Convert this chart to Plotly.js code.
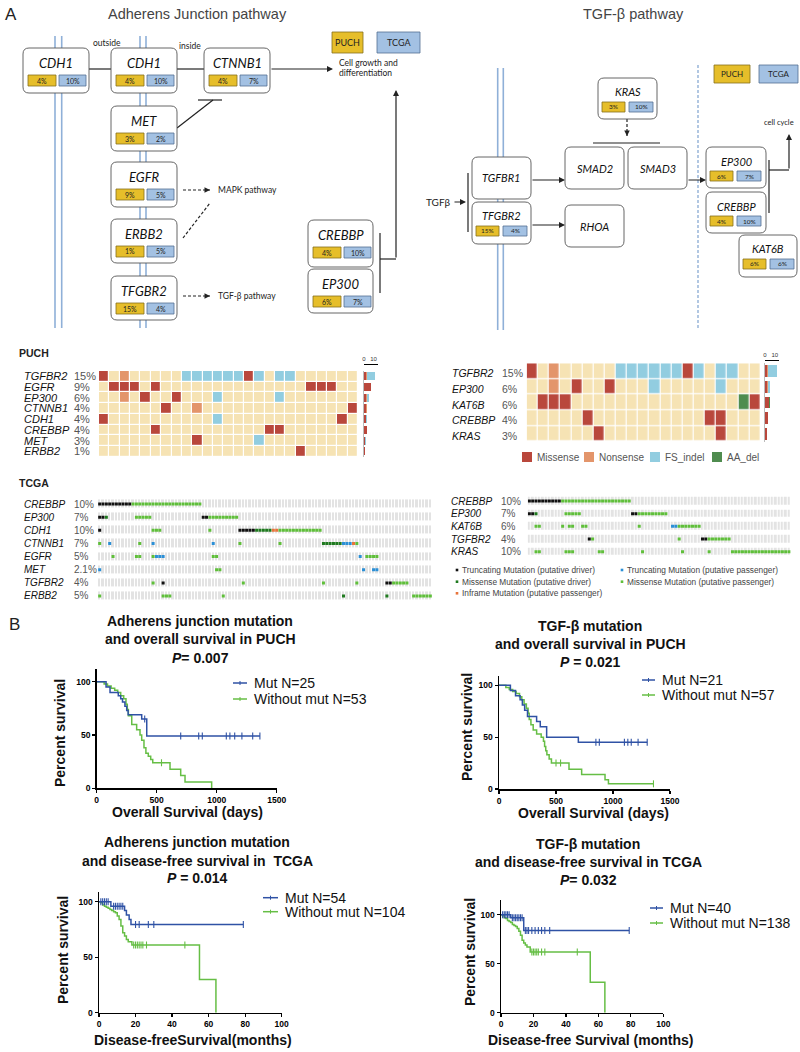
<!DOCTYPE html>
<html><head><meta charset="utf-8">
<script src="https://cdn.plot.ly/plotly-3.0.1.min.js"></script>
<style>html,body{margin:0;padding:0;background:#fff}</style>
</head><body><div id="chart" style="width:800px;height:1052px"></div>
<script>
// ================= DATA =================
// Pathway (A, top): gene names and mutation frequencies
const ajGenes = ['CDH1','CDH1','CTNNB1','MET','EGFR','ERBB2','TFGBR2','CREBBP','EP300'];
const ajPUCH  = ['4%','4%','4%','3%','9%','1%','15%','4%','6%'];
const ajTCGA  = ['10%','10%','7%','2%','5%','5%','4%','10%','7%'];
const tgfGenes = ['KRAS','TGFBR1','TFGBR2','SMAD2','SMAD3','RHOA','EP300','CREBBP','KAT6B'];
const tgfPUCH  = ['3%',null,'15%',null,null,null,'6%','4%','6%'];
const tgfTCGA  = ['10%',null,'4%',null,null,null,'7%','10%','6%'];

// PUCH oncoprints (M=Missense, N=Nonsense, F=FS_indel, A=AA_del, .=none)
const puchAJGenes = ['TGFBR2','EGFR','EP300','CTNNB1','CDH1','CREBBP','MET','ERBB2'];
const puchAJPct   = ['15%','9%','6%','4%','4%','4%','3%','1%'];
const puchAJRows  = [
  'M.N.....FFFFFFMF.FF......',
  '.MMM.M..............MMM..',
  '..N.M..M...F.....F.......',
  '......M..N..............M',
  'M..........F...........M.',
  '.....M..........MM.......',
  '.........M.....F.........',
  '...................M.....'];
const puchTGFGenes = ['TGFBR2','EP300','KAT6B','CREBBP','KRAS'];
const puchTGFPct   = ['15%','6%','6%','4%','3%'];
const puchTGFRows  = [
  'M.N.....FFFFFFMF.FF..',
  '..N.M..M...F.....F...',
  '.MMM...............AM',
  '.....M..........MM...',
  '......M..........M...'];
const puchTypes  = ['Missense','Nonsense','FS_indel','AA_del'];
const puchCodes  = ['M','N','F','A'];

// TCGA oncoprints: runs [first sample, last sample, type]
// T=Truncating driver, t=Truncating passenger, M=Missense driver, m=Missense passenger, i=Inframe passenger
const tcgaAJGenes = ['CREBBP','EP300','CDH1','CTNNB1','EGFR','MET','TGFBR2','ERBB2'];
const tcgaAJPct   = ['10%','7%','10%','7%','5%','2.1%','4%','5%'];
const tcgaAJN = 100;
const tcgaAJRuns = [
  [[0,9,'T'],[10,30,'m']],
  [[0,1,'T'],[2,2,'M'],[11,15,'m'],[31,32,'T'],[33,41,'m']],
  [[0,0,'T'],[16,18,'m'],[33,33,'m'],[42,46,'T'],[47,51,'M'],[52,53,'i'],[54,66,'m']],
  [[0,0,'m'],[3,3,'t'],[12,12,'m'],[16,16,'t'],[34,34,'t'],[42,42,'m'],[54,54,'m'],[67,72,'M'],[73,75,'t'],[76,76,'i'],[77,77,'m']],
  [[4,4,'m'],[11,12,'m'],[16,16,'m'],[17,19,'t'],[34,35,'m'],[78,78,'t'],[80,83,'m']],
  [[0,0,'t'],[35,36,'m'],[79,79,'t'],[82,83,'t']],
  [[16,16,'m'],[19,19,'T'],[43,43,'m'],[67,67,'m'],[77,77,'m'],[86,87,'T'],[88,92,'m']],
  [[0,0,'m'],[19,21,'m'],[37,37,'m'],[73,73,'M'],[86,86,'M'],[94,99,'m']]];
const tcgaTGFGenes = ['CREBBP','EP300','KAT6B','TGFBR2','KRAS'];
const tcgaTGFPct   = ['10%','7%','6%','4%','10%'];
const tcgaTGFN = 79;
const tcgaTGFRuns = [
  [[0,9,'T'],[10,30,'m']],
  [[0,1,'T'],[2,2,'M'],[11,15,'m'],[31,32,'T'],[33,41,'m']],
  [[2,3,'m'],[10,10,'m'],[12,13,'m'],[16,17,'m'],[33,33,'m'],[43,44,'t'],[45,51,'m']],
  [[18,18,'T'],[19,19,'m'],[45,45,'m'],[52,53,'T'],[54,60,'m']],
  [[2,3,'m'],[11,13,'m'],[21,22,'m'],[34,34,'m'],[46,46,'m'],[54,54,'m'],[61,78,'m']]];
const tcgaCodes  = ['T','M','i','t','m'];
const tcgaLabels = ['Truncating Mutation (putative driver)','Missense Mutation (putative driver)','Inframe Mutation (putative passenger)','Truncating Mutation (putative passenger)','Missense Mutation (putative passenger)'];

// Kaplan-Meier curves (B)
const km1MutT = [0,78,111,180,200,215,235,250,262,375,417,1360];
const km1MutS = [100,95,90,87,84,81,77,73,69,65,49,49];
const km1MutC = [400,700,850,880,1080,1110,1150,1210,1300,1360];
const km1WoT  = [0,62,90,120,150,175,200,225,244,255,264,292,333,361,375,394,410,430,450,467,611,700,736,958];
const km1WoS  = [100,98,96,94,92,90,87,84,79,74,68,60,55,50,45,38,33,30,27,24,18,12,6,0];
const km1WoC  = [540];

const km2MutT = [0,100,145,185,205,225,250,330,362,418,696,1300];
const km2MutS = [100,95,90,86,81,76,70,65,60,50,45,45];
const km2MutC = [850,880,1100,1130,1160,1220,1300];
const km2WoT  = [0,60,90,120,150,180,200,220,240,255,265,280,300,330,370,390,400,410,420,440,460,614,725,930,960,1355];
const km2WoS  = [100,98,96,94,92,89,86,82,78,73,67,62,57,53,50,46,41,37,33,29,25,19,14,9,5,5];
const km2WoC  = [500,540,1355];

const km3MutT = [0,6.5,14,15,16.5,17.5,79];
const km3MutS = [100,96,92,88,84,79.5,79.5];
const km3MutC = [1,2,3,4,5,8,9,10,11,12,13,20,22,27,30,79];
const km3WoT  = [0,1,2,3,4,5,6,7,8,9,10,11,12,13,14,15,16,18,55,64];
const km3WoS  = [100,99,97,96,95,94,93,92,91,90,87,84,78,72,69,66,64,61,30,0];
const km3WoC  = [19,20,21,22,23,24,26,47];

const km4MutT = [0,6,14,79];
const km4MutS = [100,97,84,84];
const km4MutC = [1,2,3,4,5,7,8,9,10,11,12,13,15,16,17,19,21,23,25,27,30,79];
const km4WoT  = [0,1,2,3,4,5,6,7,8,9,10,11,12,13,14,15,16,18,55,64];
const km4WoS  = [100,99,97,96,94,93,92,90,89,88,86,83,79,74,71,69,67,62,31,0];
const km4WoC  = [19,20,21,22,23,25,27,47];

// ================= HELPERS / STYLE =================
const W=800,H=1052;
const X=p=>p/W, Y=p=>1-p/H;
const FA='Liberation Sans, Arial, sans-serif';
const FD='Lato, Open Sans, sans-serif';
const shapes=[], annotations=[], traces=[];
function line(x0,y0,x1,y1,color,width,dash){shapes.push({type:'line',xref:'paper',yref:'paper',x0:X(x0),y0:Y(y0),x1:X(x1),y1:Y(y1),line:{color:color||'#222',width:width||1.2,dash:dash||'solid'}});}
function rect(x0,y0,x1,y1,fill,lc,lw){shapes.push({type:'rect',xref:'paper',yref:'paper',x0:X(x0),y0:Y(y0),x1:X(x1),y1:Y(y1),fillcolor:fill,line:{color:lc||fill,width:lw===undefined?0.8:lw}});}
function rrect(x0,y0,x1,y1,r,fill,lc,lw){
  const P=(x,y)=>X(x)+','+Y(y);
  const d='M'+P(x0+r,y0)+' L'+P(x1-r,y0)+' Q'+P(x1,y0)+' '+P(x1,y0+r)+' L'+P(x1,y1-r)+' Q'+P(x1,y1)+' '+P(x1-r,y1)+
    ' L'+P(x0+r,y1)+' Q'+P(x0,y1)+' '+P(x0,y1-r)+' L'+P(x0,y0+r)+' Q'+P(x0,y0)+' '+P(x0+r,y0)+' Z';
  shapes.push({type:'path',xref:'paper',yref:'paper',path:d,fillcolor:fill,line:{color:lc,width:lw}});
}
function text(x,y,t,size,opts,font){
  annotations.push(Object.assign({xref:'paper',yref:'paper',x:X(x),y:Y(y),text:t,showarrow:false,
    font:Object.assign({size:size,color:'#222',family:FA},font||{}),xanchor:'center',yanchor:'middle'},opts||{}));
}
function arrow(x0,y0,x1,y1,color,width){
  annotations.push({xref:'paper',yref:'paper',x:X(x1),y:Y(y1),ax:x0-x1,ay:y0-y1,axref:'pixel',ayref:'pixel',
    text:'',showarrow:true,arrowhead:2,arrowsize:1,arrowwidth:width||1.2,arrowcolor:color||'#222'});
}
function dashArrow(x0,y0,x1,y1){
  line(x0,y0,x1,y1,'#222',1.2,'3px,2px');
  const L=Math.hypot(x1-x0,y1-y0), ux=(x1-x0)/L, uy=(y1-y0)/L;
  arrow(x1-ux*3,y1-uy*3,x1,y1,'#222',1.1);
}
const YEL='#e6be2a', YELB='#86701c', BLU='#a3c1e3', BLUB='#536f92';

// ================= PANEL A : PATHWAYS =================
text(3,15,'A',17,{xanchor:'left'});
text(197,14,'Adherens Junction pathway',14.5,{}, {color:'#444'});
text(633,14,'TGF-β pathway',14.5,{}, {color:'#444'});

// membranes
[55,61.7,140,146].forEach(x=>line(x,36,x,328,'#8fb0d8',1.6));
[497.7,503.3].forEach(x=>line(x,68,x,330,'#8fb0d8',1.6));
line(698,65,698,330,'#7fa2cf',1.2,'3px,2px');

// Adherens connections
line(89,69,111,69); line(177,69,204,69); arrow(270,69,333,69);
line(177,128,213,100); line(198,100,222,100);
dashArrow(183,190,210,190); text(216,190,'MAPK pathway',8.5,{xanchor:'left'},{family:FD});
dashArrow(183,238,210,203);
dashArrow(183,296,210,296); text(216,296,'TGF-β pathway',8.5,{xanchor:'left'},{family:FD});
line(380,233,380,293); line(380,259,396,259); arrow(396,259,396,90);
text(107,43,'outside',8.5,{},{family:FD}); text(190,46,'inside',8.5,{},{family:FD});
text(337,63,'Cell growth and',8.5,{xanchor:'left'},{family:FD});
text(337,73,'differentiation',8.5,{xanchor:'left'},{family:FD});
rect(332,32,363,53,YEL,YELB,0.8); text(347.5,42.5,'PUCH',9,{},{family:FD});
rect(377,32,420,53,BLU,BLUB,0.8); text(398.5,42.5,'TCGA',9,{},{family:FD});

const ajBoxes=[[23,48,89,93],[111,48,177,93],[204,48,270,93],[111,106,177,151],[111,162,177,207],[111,219,177,263],[111,276,177,320],[308,220,373,267],[308,269,373,313]];
ajGenes.forEach((g,i)=>{
  const [x0,y0,x1,y1]=ajBoxes[i];
  rrect(x0,y0,x1,y1,6,'#fff','#555',0.9);
  text((x0+x1)/2,y0+15,'<i>'+g+'</i>',13,{},{family:FD,color:'#111'});
  rect(x0+5,y0+27,x0+33,y0+38,YEL,YELB,0.8); text(x0+19,y0+32.5,ajPUCH[i],7,{},{family:FD});
  rect(x0+36,y0+27,x0+63,y0+38,BLU,BLUB,0.8); text(x0+49.5,y0+32.5,ajTCGA[i],7,{},{family:FD});
});

// TGF connections
dashArrow(627,119,627,136);
line(593,143,660,143);
arrow(531,180,565,180); arrow(531,225,565,225); arrow(687,180,706,180);
line(468,173,468,232); text(453,202,'TGFβ',10,{xanchor:'right'},{family:FD}); arrow(453,202,466,202);
line(769,160,769,213); line(769,170,789,170); arrow(789,170,789,134);
text(779,122,'cell cycle',7.5,{},{family:FD});
rect(714,65,750,83,YEL,YELB,0.8); text(732,74,'PUCH',8,{},{family:FD});
rect(759,65,798,83,BLU,BLUB,0.8); text(778.5,74,'TCGA',8,{},{family:FD});

const tgfBoxes=[[598,78,657,119],[472,157,531,199],[472,202,531,244],[565,147,624,189],[628,147,687,189],[565,205,624,247],[706,147,766,188],[706,192,766,233],[739,235,797,277]];
tgfGenes.forEach((g,i)=>{
  const [x0,y0,x1,y1]=tgfBoxes[i];
  rrect(x0,y0,x1,y1,6,'#fff','#555',0.9);
  if(tgfPUCH[i]){
    text((x0+x1)/2,y0+14,'<i>'+g+'</i>',11,{},{family:FD,color:'#111'});
    rect(x0+4,y0+24,x0+27,y0+34,YEL,YELB,0.8); text(x0+15.5,y0+29,tgfPUCH[i],6.5,{},{family:FD});
    rect(x0+31,y0+24,x0+55,y0+34,BLU,BLUB,0.8); text(x0+43,y0+29,tgfTCGA[i],6.5,{},{family:FD});
  } else {
    text((x0+x1)/2,(y0+y1)/2,'<i>'+g+'</i>',11,{},{family:FD,color:'#111'});
  }
});

// ================= PUCH ONCOPRINTS =================
const puchColors=['#f6e3b4','#b9473c','#e3956b','#92cde0','#4f8c4f'];
const cs=[];puchColors.forEach((c,i)=>{cs.push([i/5,c]);cs.push([(i+1)/5,c]);});
function puchPanel(rows,genes,pct,xa,ya,barXa,barYa,gx,px,rowYs,sz){
  const z=rows.map(r=>r.split('').map(ch=>puchCodes.indexOf(ch)+1));
  traces.push({type:'heatmap',z:z,x:z[0].map((_,j)=>j),y:rows.map((_,i)=>i),zmin:-0.5,zmax:4.5,colorscale:cs,
    showscale:false,xgap:1.2,ygap:1.2,xaxis:xa,yaxis:ya,hoverinfo:'skip'});
  puchCodes.forEach((c,k)=>{
    traces.push({type:'bar',orientation:'h',x:rows.map(r=>r.split('').filter(ch=>ch===c).length),
      y:rows.map((_,i)=>i),marker:{color:puchColors[k+1],line:{width:0}},width:0.75,
      xaxis:barXa,yaxis:barYa,hoverinfo:'skip',showlegend:false});
  });
  genes.forEach((g,i)=>{
    text(gx,rowYs[i],'<i>'+g+'</i>',sz,{xanchor:'left'},{color:'#111'});
    text(px,rowYs[i],pct[i],sz,{xanchor:'left'},{color:'#555'});
  });
}
text(17,353,'<b>PUCH</b>',10.5,{xanchor:'left'});
puchPanel(puchAJRows,puchAJGenes,puchAJPct,'x','y','x2','y2',22,72,
  puchAJRows.map((_,i)=>371+10.71*(i+0.5)),11);
puchPanel(puchTGFRows,puchTGFGenes,puchTGFPct,'x3','y3','x4','y4',450,500,
  puchTGFRows.map((_,i)=>363.3+15.68*(i+0.5)+2),10.5);
// PUCH legend
const legX=[522,584,650,712];
puchTypes.forEach((t,k)=>{rect(legX[k],452,legX[k]+10,462,puchColors[k+1],puchColors[k+1],0);
  text(legX[k]+13,457,t,10,{xanchor:'left'},{color:'#555'});});

// ================= TCGA ONCOPRINTS =================
const tcgaColors=['#111111','#1f7a1f','#e8743b','#2b8fd6','#5fbf3a'];
function tcgaPanel(runs,genes,pct,N,xa,ya,gx,px,rowYs){
  traces.push({type:'heatmap',z:genes.map(()=>Array(N).fill(1)),x:Array.from({length:N},(_,j)=>j),y:genes.map((_,i)=>i),
    colorscale:[[0,'#e3e3e3'],[1,'#e3e3e3']],showscale:false,xgap:1,ygap:5,xaxis:xa,yaxis:ya,hoverinfo:'skip'});
  tcgaCodes.forEach((c,k)=>{
    const xs=[],ys=[];
    runs.forEach((rr,i)=>rr.forEach(([a,b,t])=>{if(t===c)for(let j=a;j<=b;j++){xs.push(j);ys.push(i);}}));
    traces.push({type:'scatter',mode:'markers',x:xs,y:ys,marker:{symbol:'square',size:3,color:tcgaColors[k],line:{width:0}},
      xaxis:xa,yaxis:ya,hoverinfo:'skip',showlegend:false});
  });
  genes.forEach((g,i)=>{
    text(gx,rowYs[i],'<i>'+g+'</i>',10,{xanchor:'left'},{color:'#111'});
    text(px,rowYs[i],pct[i],10,{xanchor:'left'},{color:'#555'});
  });
}
text(17,483,'<b>TCGA</b>',10.5,{xanchor:'left'});
tcgaPanel(tcgaAJRuns,tcgaAJGenes,tcgaAJPct,tcgaAJN,'x5','y5',22,72,tcgaAJGenes.map((_,i)=>504+13.14*i));
tcgaPanel(tcgaTGFRuns,tcgaTGFGenes,tcgaTGFPct,tcgaTGFN,'x6','y6',449,499,tcgaTGFGenes.map((_,i)=>501+12.68*i));
const tlx=[457,457,457,622,622], tly=[570,581.7,593.3,570,581.7];
tcgaCodes.forEach((c,k)=>{rect(tlx[k]-1.3,tly[k]-1.3,tlx[k]+1.3,tly[k]+1.3,tcgaColors[k],tcgaColors[k],0);
  text(tlx[k]+2.5,tly[k],tcgaLabels[k],8.3,{xanchor:'left'},{color:'#444'});});

// ================= PANEL B : KAPLAN-MEIER =================
text(7,624,'B',17,{xanchor:'left'});
const MUTC='#2f52a5', WOC='#66be45';
function stepAt(t,s,c){let v=s[0];for(let i=0;i<t.length;i++){if(t[i]<=c)v=s[i];}return v;}
function km(xa,ya,mt,ms,mc,wt,ws,wc){
  [[wt,ws,wc,WOC],[mt,ms,mc,MUTC]].forEach(([t,s,c,col])=>{
    traces.push({type:'scatter',mode:'lines',x:t,y:s,line:{shape:'hv',color:col,width:1.5},xaxis:xa,yaxis:ya,hoverinfo:'skip',showlegend:false});
    traces.push({type:'scatter',mode:'markers',x:c,y:c.map(v=>stepAt(t,s,v)),marker:{symbol:'line-ns-open',size:5,color:col,line:{width:1.1,color:col}},
      xaxis:xa,yaxis:ya,hoverinfo:'skip',showlegend:false});
  });
}
km('x7','y7',km1MutT,km1MutS,km1MutC,km1WoT,km1WoS,km1WoC);
km('x8','y8',km2MutT,km2MutS,km2MutC,km2WoT,km2WoS,km2WoC);
km('x9','y9',km3MutT,km3MutS,km3MutC,km3WoT,km3WoS,km3WoC);
km('x10','y10',km4MutT,km4MutS,km4MutC,km4WoT,km4WoS,km4WoC);

function kmLegend(x0,x1,y1,y2,n1,n2){
  [[y1,MUTC,'Mut N='+n1],[y2,WOC,'Without mut N='+n2]].forEach(([y,c,t])=>{
    line(x0,y,x1,y,c,1.5); line((x0+x1)/2,y-2,(x0+x1)/2,y+2,c,1);
    text(x1+5,y,t,14,{xanchor:'left'},{color:'#111'});
  });
}
kmLegend(233,247,683,699,25,53);
kmLegend(642,655,680,695,21,57);
kmLegend(263,278,897.7,911.7,54,104);
kmLegend(650,663,908,923,40,138);

function kmTitles(cx,ys,lines){lines.forEach((l,i)=>text(cx,ys[i],'<b>'+l+'</b>',14,{},{color:'#111'}));}
kmTitles(200,[620.7,639,657.5],['Adherens junction mutation','and overall survival in PUCH','<i>P</i>= 0.007']);
kmTitles(590,[626,644,661.7],['TGF-β mutation','and overall survival in PUCH','<i>P</i> = 0.021']);
kmTitles(197,[842,861,878],['Adherens junction mutation','and disease-free survival in  TCGA','<i>P</i> = 0.014']);
kmTitles(588,[844,862,879.5],['TGF-β mutation','and disease-free survival in TCGA','<i>P</i>= 0.032']);
function kmAxTitles(yx,yy,xx,xy,xt){
  text(yx,yy,'<b>Percent survival</b>',14,{textangle:-90},{color:'#111'});
  text(xx,xy,'<b>'+xt+'</b>',14,{},{color:'#111'});
}
kmAxTitles(60,733,187,812,'Overall Survival (days)');
kmAxTitles(467,727,593,813,'Overall Survival (days)');
kmAxTitles(63,950,193,1040,'Disease-freeSurvival(months)');
kmAxTitles(470,952,590,1040,'Disease-free Survival (months)');

// ================= LAYOUT =================
const hid={visible:false,showgrid:false,zeroline:false,fixedrange:true};
function dom(a,b,s){return s==='x'?[X(a),X(b)]:[Y(b),Y(a)];}
const kmX=(a,b,r,tv,anchor)=>({domain:dom(a,b,'x'),range:r,anchor:anchor,showline:true,linewidth:1.5,linecolor:'#000',
  ticks:'outside',ticklen:3,tickwidth:1.2,tickcolor:'#000',tickvals:tv,showgrid:false,zeroline:false,
  tickfont:{family:FA,size:8.5,weight:'bold',color:'#000'}});
const kmY=(a,b,r,anchor)=>({domain:dom(a,b,'y'),range:r,anchor:anchor,showline:true,linewidth:1.5,linecolor:'#000',
  ticks:'outside',ticklen:3,tickwidth:1.2,tickcolor:'#000',tickvals:[0,50,100],showgrid:false,zeroline:false,
  tickfont:{family:FA,size:8.5,weight:'bold',color:'#000'}});
const miniX=(a,b,r,pos,anchor)=>({domain:dom(a,b,'x'),range:r,anchor:'free',position:Y(pos),side:'top',showline:true,linecolor:'#000',
  linewidth:1,ticks:'',tickvals:[0,10],tickfont:{size:6,color:'#333',family:FA},showgrid:false,zeroline:false,fixedrange:true});
const layout={
  width:W,height:H,margin:{l:0,r:0,t:0,b:0},paper_bgcolor:'#fff',plot_bgcolor:'rgba(0,0,0,0)',
  showlegend:false,barmode:'stack',bargap:0.25,
  xaxis:Object.assign({domain:dom(99,358,'x'),range:[-0.5,24.5],anchor:'y'},hid),
  yaxis:Object.assign({domain:dom(371,456.7,'y'),range:[7.5,-0.5],anchor:'x'},hid),
  xaxis2:miniX(364,378,[0,14.7],363.5),
  yaxis2:Object.assign({domain:dom(371,456.7,'y'),range:[7.5,-0.5],anchor:'x2'},hid),
  xaxis3:Object.assign({domain:dom(526.7,760.5,'x'),range:[-0.5,20.5],anchor:'y3'},hid),
  yaxis3:Object.assign({domain:dom(363.3,441.7,'y'),range:[4.5,-0.5],anchor:'x3'},hid),
  xaxis4:miniX(765,779,[0,14.2],359.5),
  yaxis4:Object.assign({domain:dom(363.3,441.7,'y'),range:[4.5,-0.5],anchor:'x4'},hid),
  xaxis5:Object.assign({domain:dom(98,432,'x'),range:[-0.5,tcgaAJN-0.5],anchor:'y5'},hid),
  yaxis5:Object.assign({domain:dom(497.4,602.6,'y'),range:[7.5,-0.5],anchor:'x5'},hid),
  xaxis6:Object.assign({domain:dom(527.7,790.7,'x'),range:[-0.5,tcgaTGFN-0.5],anchor:'y6'},hid),
  yaxis6:Object.assign({domain:dom(494.7,558,'y'),range:[4.5,-0.5],anchor:'x6'},hid),
  xaxis7:kmX(96.7,276.7,[0,1500],[0,500,1000,1500],'y7'),
  yaxis7:kmY(669,788.3,[0,112],'x7'),
  xaxis8:kmX(499,670,[0,1500],[0,500,1000,1500],'y8'),
  yaxis8:kmY(676,789,[0,109],'x8'),
  xaxis9:kmX(99,281.7,[0,100],[0,20,40,60,80,100],'y9'),
  yaxis9:kmY(891.7,1012.7,[0,109],'x9'),
  xaxis10:kmX(501,663.3,[0,100],[0,20,40,60,80,100],'y10'),
  yaxis10:kmY(900,1012.7,[0,115],'x10'),
  shapes:shapes,annotations:annotations
};
layout.yaxis2.showline=true; layout.yaxis2.visible=true; layout.yaxis2.showticklabels=false; layout.yaxis2.linecolor='#bbb';
layout.yaxis4.showline=true; layout.yaxis4.visible=true; layout.yaxis4.showticklabels=false; layout.yaxis4.linecolor='#bbb';
Plotly.newPlot('chart',traces,layout,{displayModeBar:false,staticPlot:true});
</script></body></html>
